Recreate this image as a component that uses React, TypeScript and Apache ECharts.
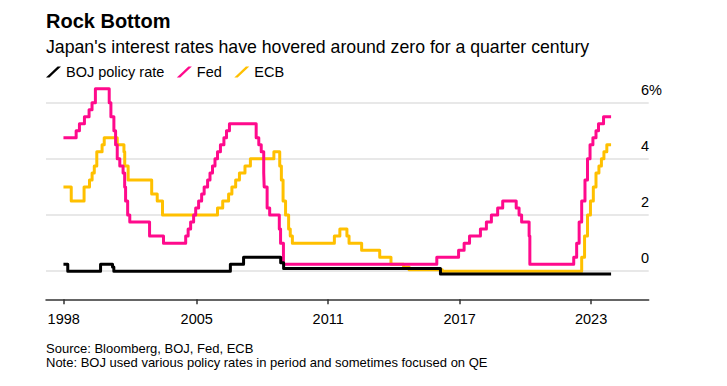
import React, { useEffect, useRef } from "react";
import * as echarts from "echarts";

const FONT = '"Liberation Sans", Arial, Helvetica, sans-serif';

const seriesNames = ["BOJ policy rate", "Fed", "ECB"];
const seriesColors = ["#000000", "#FF0A8C", "#FFC000"];

const bojDates = ["1998-12-01", "1999-02-12", "2000-08-11", "2001-02-28", "2001-03-19", "2006-07-14", "2007-02-21", "2008-10-31", "2008-12-19", "2016-02-16", "2023-11-30"];
const bojRates = [0.25, 0, 0.25, 0.15, 0, 0.25, 0.5, 0.3, 0.1, -0.1, -0.1];

const fedDates = ["1998-12-01", "1999-06-30", "1999-08-24", "1999-11-16", "2000-02-02", "2000-03-21", "2000-05-16", "2001-01-03", "2001-01-31", "2001-03-20", "2001-04-18", "2001-05-15", "2001-06-27", "2001-08-21", "2001-09-17", "2001-10-02", "2001-11-06", "2001-12-11", "2002-11-06", "2003-06-25", "2004-06-30", "2004-08-10", "2004-09-21", "2004-11-10", "2004-12-14", "2005-02-02", "2005-03-22", "2005-05-03", "2005-06-30", "2005-08-09", "2005-09-20", "2005-11-01", "2005-12-13", "2006-01-31", "2006-03-28", "2006-05-10", "2006-06-29", "2007-09-18", "2007-10-31", "2007-12-11", "2008-01-22", "2008-01-30", "2008-03-18", "2008-04-30", "2008-10-08", "2008-10-29", "2008-12-16", "2015-12-16", "2016-12-14", "2017-03-15", "2017-06-14", "2017-12-13", "2018-03-21", "2018-06-13", "2018-09-26", "2018-12-19", "2019-07-31", "2019-09-18", "2019-10-30", "2020-03-03", "2020-03-15", "2022-03-16", "2022-05-04", "2022-06-15", "2022-07-27", "2022-09-21", "2022-11-02", "2022-12-14", "2023-02-01", "2023-03-22", "2023-05-03", "2023-07-26", "2023-11-30"];
const fedRates = [4.75, 5.0, 5.25, 5.5, 5.75, 6.0, 6.5, 6.0, 5.5, 5.0, 4.5, 4.0, 3.75, 3.5, 3.0, 2.5, 2.0, 1.75, 1.25, 1.0, 1.25, 1.5, 1.75, 2.0, 2.25, 2.5, 2.75, 3.0, 3.25, 3.5, 3.75, 4.0, 4.25, 4.5, 4.75, 5.0, 5.25, 4.75, 4.5, 4.25, 3.5, 3.0, 2.25, 2.0, 1.5, 1.0, 0.25, 0.5, 0.75, 1.0, 1.25, 1.5, 1.75, 2.0, 2.25, 2.5, 2.25, 2.0, 1.75, 1.25, 0.25, 0.5, 1.0, 1.75, 2.5, 3.25, 4.0, 4.5, 4.75, 5.0, 5.25, 5.5, 5.5];

const ecbDates = ["1998-12-01", "1999-04-09", "1999-11-10", "2000-02-09", "2000-03-22", "2000-04-28", "2000-06-09", "2000-09-06", "2000-10-11", "2001-05-15", "2001-09-05", "2001-09-18", "2001-11-14", "2002-12-11", "2003-03-12", "2003-06-09", "2005-12-12", "2006-03-08", "2006-06-15", "2006-08-09", "2006-10-11", "2006-12-13", "2007-03-14", "2007-06-13", "2008-07-09", "2008-10-15", "2008-11-12", "2008-12-10", "2009-01-21", "2009-03-11", "2009-04-08", "2009-05-13", "2011-04-13", "2011-07-13", "2011-11-09", "2011-12-14", "2012-07-11", "2013-05-08", "2013-11-13", "2014-06-11", "2014-09-10", "2016-03-16", "2022-07-27", "2022-09-14", "2022-11-02", "2022-12-21", "2023-02-08", "2023-03-22", "2023-05-10", "2023-06-21", "2023-08-02", "2023-09-20", "2023-11-30"];
const ecbRates = [3.0, 2.5, 3.0, 3.25, 3.5, 3.75, 4.25, 4.5, 4.75, 4.5, 4.25, 3.75, 3.25, 2.75, 2.5, 2.0, 2.25, 2.5, 2.75, 3.0, 3.25, 3.5, 3.75, 4.0, 4.25, 3.75, 3.25, 2.5, 2.0, 1.5, 1.25, 1.0, 1.25, 1.5, 1.25, 1.0, 0.75, 0.5, 0.25, 0.15, 0.05, 0.0, 0.5, 1.25, 2.0, 2.5, 3.0, 3.5, 3.75, 4.0, 4.25, 4.5, 4.5];

const xTickValues = [1998.93, 2005, 2011, 2017, 2023];
const yTickValues = [0, 2, 4, 6];

const titleText = "Rock Bottom";
const subtitleText = "Japan's interest rates have hovered around zero for a quarter century";
const sourceText = "Source: Bloomberg, BOJ, Fed, ECB";
const noteText = "Note: BOJ used various policy rates in period and sometimes focused on QE";

const toYear = (s: string) => {
  const [y, m, d] = s.split("-").map(Number);
  return y + (m - 1) / 12 + (d - 1) / 365;
};

const pairs = (dates: string[], vals: number[]) => dates.map((d, i) => [toYear(d), vals[i]]);

export default function App() {
  const ref = useRef<HTMLDivElement>(null);
  useEffect(() => {
    if (!ref.current) return;
    const chart = echarts.init(ref.current, null, { renderer: "svg" });
    const datasets = [pairs(bojDates, bojRates), pairs(fedDates, fedRates), pairs(ecbDates, ecbRates)];
    const order = [2, 1, 0];
    const series = order.map((i) => ({
      name: seriesNames[i],
      type: "line",
      data: datasets[i],
      step: "end",
      showSymbol: false,
      symbol: "none",
      color: seriesColors[i],
      lineStyle: { color: seriesColors[i], width: 3, join: "round" },
      z: 3 - i + 2,
    }));
    chart.setOption({
      animation: false,
      backgroundColor: "#ffffff",
      textStyle: { fontFamily: FONT },
      graphic: [
        { type: "text", left: 46, top: 11, style: { text: titleText, fill: "#000", fontFamily: FONT, fontSize: 20, fontWeight: "bold" } },
        { type: "text", left: 46, top: 38, style: { text: subtitleText, fill: "#000", fontFamily: FONT, fontSize: 17.7 } },
        { type: "text", left: 46, top: 341.5, style: { text: sourceText, fill: "#000", fontFamily: FONT, fontSize: 13 } },
        { type: "text", left: 46, top: 356, style: { text: noteText, fill: "#000", fontFamily: FONT, fontSize: 13 } },
      ],
      legend: {
        data: seriesNames,
        left: 46,
        top: 64.5,
        padding: 0,
        itemWidth: 15,
        itemHeight: 11,
        itemGap: 12.5,
        icon: "path://M0,11 L3.4,11 L15,0 L11.6,0 Z",
        textStyle: { fontSize: 14.5, color: "#000", fontFamily: FONT },
        selectedMode: false,
      },
      grid: { left: 46, right: 78.3, top: 85.85, bottom: 86.7, outerBoundsMode: "none", containLabel: false },
      xAxis: {
        type: "value",
        min: 1998.12,
        max: 2025.63,
        axisLine: { show: true, onZero: false, lineStyle: { color: "#333", width: 1.5 } },
        axisTick: { show: true, length: 5, customValues: xTickValues, lineStyle: { color: "#333", width: 1.5 } },
        axisLabel: {
          customValues: xTickValues,
          formatter: (v: number) => String(Math.floor(v)),
          margin: 12,
          fontSize: 14.5,
          color: "#000",
          fontFamily: FONT,
        },
        splitLine: { show: false },
      },
      yAxis: {
        type: "value",
        position: "right",
        min: -1,
        max: 6.6,
        axisLine: { show: false },
        axisTick: { show: false, customValues: yTickValues },
        axisLabel: {
          customValues: yTickValues,
          formatter: (v: number) => (v === 6 ? "6%" : String(v)),
          align: "left",
          verticalAlign: "bottom",
          lineHeight: 26,
          margin: -7.7,
          fontSize: 14.5,
          color: "#000",
          fontFamily: FONT,
        },
        splitLine: { show: true, lineStyle: { color: "#e0e0e0", width: 1.5 } },
      },
      series,
    });
    return () => chart.dispose();
  }, []);
  return <div ref={ref} style={{ position: "fixed", left: 0, top: 0, width: 727, height: 386 }} />;
}
